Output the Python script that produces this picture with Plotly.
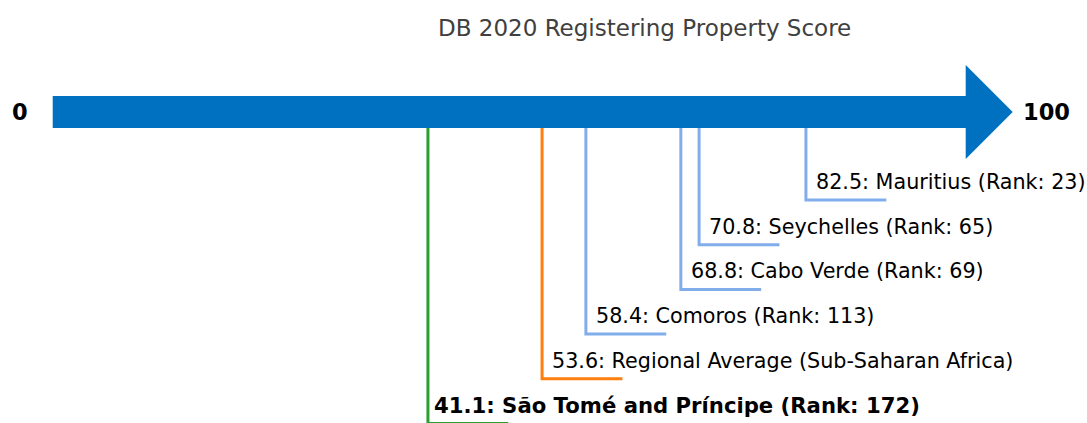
import plotly.graph_objects as go

# ---- data ----
scores = [41.1, 53.6, 58.4, 68.8, 70.8, 82.5]
names = ["São Tomé and Príncipe", "Regional Average (Sub-Saharan Africa)",
         "Comoros", "Cabo Verde", "Seychelles", "Mauritius"]
ranks = [172, None, 113, 69, 65, 23]
kinds = ["focus", "region", "peer", "peer", "peer", "peer"]
title_text = "DB 2020 Registering Property Score"
scale_min, scale_max = 0, 100

# ---- styling ----
W, H = 1087, 423
px_per_unit = 9.13
x0_px = 52.7
colors = {"focus": "#2ca02c", "region": "#ff7f0e", "peer": "#82adeb"}
bar_color = "#0070c0"
font_family = "DejaVu Sans"

x_lo = -x0_px / px_per_unit
x_hi = (W - x0_px) / px_per_unit

bar_mid = 112
bar_half = 16
head_half = 47
head_len = 47 / px_per_unit
bottom_level = 423.5
step = 44.7
tail = 8.8

fig = go.Figure()

# leader lines
for i, (s, k) in enumerate(zip(scores, kinds)):
    lvl = bottom_level - i * step
    fig.add_trace(go.Scatter(
        x=[s, s, s + tail], y=[bar_mid, lvl, lvl], mode="lines",
        line=dict(color=colors[k], width=3), hoverinfo="skip", showlegend=False))

# arrow
ax = [scale_min, scale_max, scale_max, scale_max + head_len, scale_max, scale_max, scale_min, scale_min]
ay = [bar_mid - bar_half, bar_mid - bar_half, bar_mid - head_half, bar_mid,
      bar_mid + head_half, bar_mid + bar_half, bar_mid + bar_half, bar_mid - bar_half]
fig.add_trace(go.Scatter(x=ax, y=ay, mode="lines", fill="toself", fillcolor=bar_color,
                         line=dict(width=0, color=bar_color), hoverinfo="skip", showlegend=False))

annotations = []
for i, (s, n, r, k) in enumerate(zip(scores, names, ranks, kinds)):
    lvl = bottom_level - i * step
    label = f"{s}: {n}" + (f" (Rank: {r})" if r is not None else "")
    bold = k == "focus"
    annotations.append(dict(
        x=s + (0.45 if bold else 0.85), y=lvl - 18, xref="x", yref="y",
        text=f"<b>{label}</b>" if bold else label, showarrow=False,
        xanchor="left", yanchor="middle",
        font=dict(family=font_family, size=21.2 if bold else 20.7, color="#000000")))

annotations.append(dict(x=20 / W, y=bar_mid, xref="paper", yref="y", text=f"<b>{scale_min}</b>",
                        showarrow=False, xanchor="center", yanchor="middle",
                        font=dict(family=font_family, size=22.5, color="#000000")))
annotations.append(dict(x=1046 / W, y=bar_mid, xref="paper", yref="y", text=f"<b>{scale_max}</b>",
                        showarrow=False, xanchor="center", yanchor="middle",
                        font=dict(family=font_family, size=22.5, color="#000000")))
annotations.append(dict(x=644 / W, y=28, xref="paper", yref="y", text=title_text,
                        showarrow=False, xanchor="center", yanchor="middle",
                        font=dict(family=font_family, size=23, color="#404040")))

fig.update_layout(
    width=W, height=H, margin=dict(l=0, r=0, t=0, b=0),
    paper_bgcolor="white", plot_bgcolor="white",
    xaxis=dict(range=[x_lo, x_hi], visible=False, fixedrange=True),
    yaxis=dict(range=[H, 0], visible=False, fixedrange=True),
    annotations=annotations, showlegend=False)

fig.write_html("out.html", config={"displayModeBar": False},
               post_script="document.body.style.margin='0';document.body.style.overflow='hidden';")
